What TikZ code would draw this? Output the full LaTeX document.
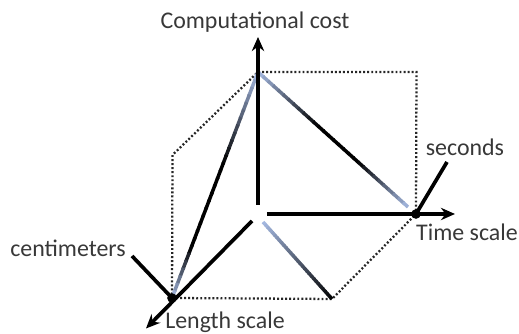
\documentclass[tikz,border=0pt]{standalone}
\usepackage{fontspec}
\setmainfont{Carlito}
\usetikzlibrary{arrows.meta, calc}

\definecolor{paleblue}{RGB}{165,185,225}

\begin{document}
\begin{tikzpicture}[
    every node/.style={font=\fontsize{13.6}{16}\selectfont, text=black!78},
    axis/.style={-{Stealth[length=8pt,width=7pt]}, line width=2.1pt, black},
    tickline/.style={line width=2.1pt, black},
    hexline/.style={line width=1.3pt, dash pattern=on 1.1pt off 1.2pt, black!85},
    shadeline/.style={line width=2pt},
    dot/.style={circle, fill=black, inner sep=0pt, minimum size=5.5pt}
  ]

    \useasboundingbox (0,0) rectangle (10.38,6.68);

    % Corners of the dotted hexagon
    \coordinate (top)   at (5.16,5.24);
    \coordinate (topR)  at (8.33,5.24);
    \coordinate (topL)  at (3.45,3.58);
    \coordinate (lenPt) at (3.44,0.72);
    \coordinate (bot)   at (6.64,0.70);
    \coordinate (timePt) at (8.32,2.40);

    % Axis ends
    \coordinate (costStart) at (5.16,2.58);
    \coordinate (costTip)   at (5.16,5.94);
    \coordinate (timeStart) at (5.34,2.40);
    \coordinate (timeTip)   at (9.10,2.40);
    \coordinate (lenStart)  at (5.04,2.26);
    \coordinate (lenTip)    at (2.92,0.11);

    % Free ends of the short ticks and shaded lines
    \coordinate (secEnd) at (8.94,3.44);
    \coordinate (cmEnd)  at (2.64,1.56);
    \coordinate (midEnd) at (8.16,2.54);
    \coordinate (ctrEnd) at (5.26,2.24);

    % Dotted hexagon
    \draw[hexline] (lenPt) -- (bot) -- (timePt) -- (topR) -- (top) -- (topL) -- cycle;

    % Shaded lines (pale blue -> black -> pale blue)
    \foreach \from/\to/\up/\down in {top/lenPt/250/450, top/midEnd/250/300, ctrEnd/bot/100/10000} {
      \foreach \i in {0,...,29} {
        \pgfmathsetmacro{\a}{\i/30}
        \pgfmathsetmacro{\b}{(\i+1.2)/30}
        \pgfmathsetmacro{\t}{(\i+0.5)/30}
        \pgfmathtruncatemacro{\p}{min(100, \up*\t, \down*(1-\t))}
        \draw[shadeline, black!\p!paleblue] ($(\from)!\a!(\to)$) -- ($(\from)!{min(\b,1)}!(\to)$);
      }
    }

    % Axes
    \draw[axis] (costStart) -- (costTip);
    \draw[axis] (timeStart) -- (timeTip);
    \draw[axis] (lenStart) -- (lenTip);

    % Ticks with their dots
    \draw[tickline] (timePt) -- (secEnd);
    \draw[tickline] (cmEnd) -- (lenPt);
    \node[dot] (timeDot) at (timePt) {};
    \node[dot] (lenDot) at (lenPt) {};

    % Labels
    \node (costLabel) at (5.10,6.24) {Computational cost};
    \node (timeLabel) at (9.34,2.04) {Time scale};
    \node (lenLabel)  at (4.50,0.24) {Length scale};
    \node (secLabel)  at (9.30,3.74) {seconds};
    \node (cmLabel)   at (1.36,1.72) {centimeters};

  \end{tikzpicture}
\end{document}
